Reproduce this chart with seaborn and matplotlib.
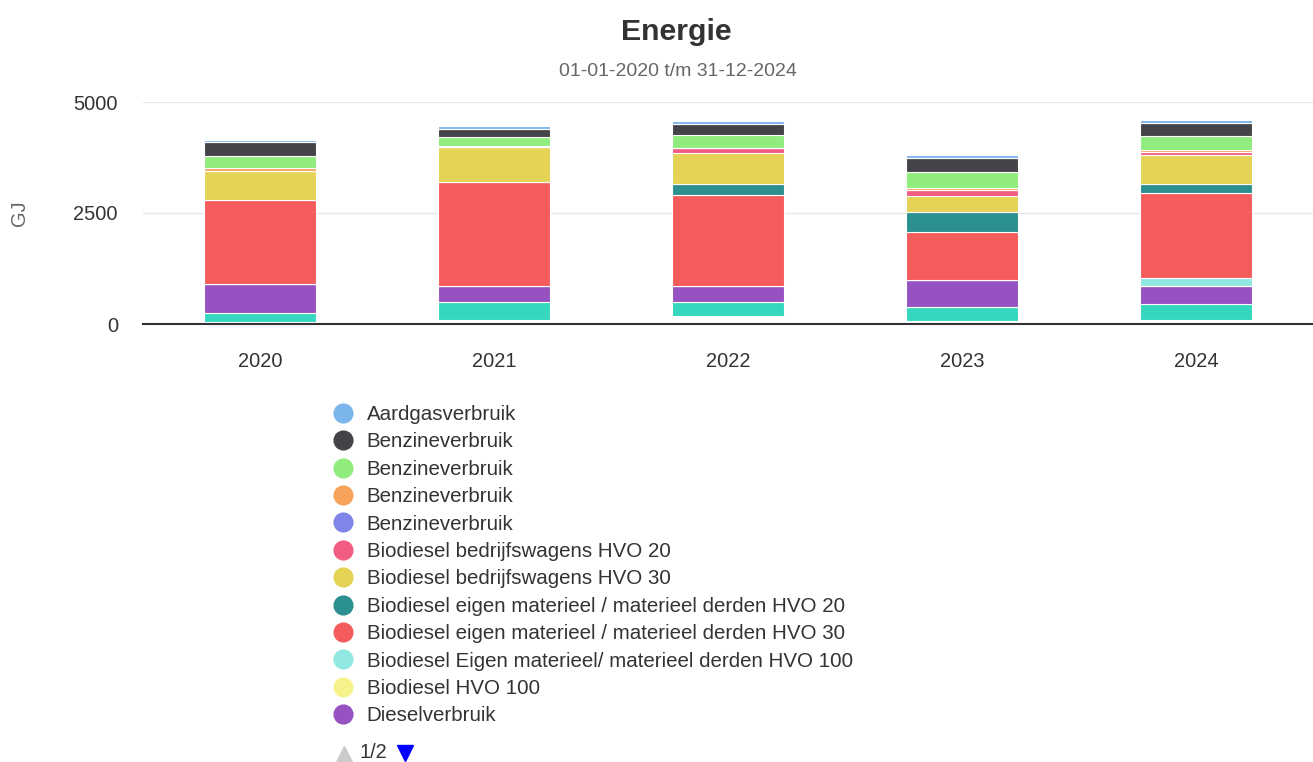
import numpy as np
import pandas as pd
import matplotlib
matplotlib.use('Agg')
import matplotlib.pyplot as plt
from matplotlib.lines import Line2D
import seaborn as sns

# categories
years = ['2020', '2021', '2022', '2023', '2024']

# series values in GJ, legend order = top of stack first
aardgas = [56, 70, 68, 68, 68]
benzine_zwart = [297, 185, 252, 315, 277]
benzine_groen = [281, 198, 288, 360, 331]
benzine_oranje = [60, 25, 0, 30, 30]
benzine_paars = [0, 0, 0, 0, 0]
bio_bw_hvo20 = [0, 0, 113, 151, 75]
bio_bw_hvo30 = [649, 777, 698, 356, 642]
bio_eigen_hvo20 = [0, 0, 241, 439, 218]
bio_eigen_hvo30 = [1914, 2342, 2056, 1085, 1914]
bio_eigen_hvo100 = [0, 0, 0, 0, 176]
bio_hvo100 = [0, 0, 0, 0, 0]
diesel = [653, 360, 360, 608, 405]
# series on legend page 2 (not listed on page 1)
page2_turquoise = [203, 410, 327, 315, 372]
page2_white = [34, 90, 169, 74, 79]

labels = ['Aardgasverbruik', 'Benzineverbruik', 'Benzineverbruik', 'Benzineverbruik',
          'Benzineverbruik', 'Biodiesel bedrijfswagens HVO 20', 'Biodiesel bedrijfswagens HVO 30',
          'Biodiesel eigen materieel / materieel derden HVO 20',
          'Biodiesel eigen materieel / materieel derden HVO 30',
          'Biodiesel Eigen materieel/ materieel derden HVO 100', 'Biodiesel HVO 100',
          'Dieselverbruik']
colors = ['#7cb5ec', '#434348', '#90ed7d', '#f7a35c', '#8085e9', '#f15c80', '#e4d354',
          '#2b908f', '#f45b5b', '#91e8e1', '#f7f38c', '#9552c0']
series = [aardgas, benzine_zwart, benzine_groen, benzine_oranje, benzine_paars,
          bio_bw_hvo20, bio_bw_hvo30, bio_eigen_hvo20, bio_eigen_hvo30,
          bio_eigen_hvo100, bio_hvo100, diesel]

sns.set_style('white')
plt.rcParams['font.family'] = ['Liberation Sans', 'DejaVu Sans']

# stack from the bottom: page 2 series first, then page 1 reversed
stack = [(page2_white, '#ffffff'), (page2_turquoise, '#36d7bf')]
stack += [(s, c) for s, c in zip(series[::-1], colors[::-1])]

fig = plt.figure(figsize=(13.13, 7.62), dpi=100)
ax = fig.add_axes([143 / 1313, 1 - 324 / 762, 1170 / 1313, 222 / 762])

bottom = np.zeros(len(years))
for vals, col in stack:
    df = pd.DataFrame({'jaar': years, 'GJ': vals})
    sns.barplot(data=df, x='jaar', y='GJ', color=col, width=0.48, bottom=bottom,
                edgecolor='white', linewidth=0.8, saturation=1, ax=ax, errorbar=None)
    bottom += np.array(vals)

ax.set_ylim(0, 5000)
ax.set_xlim(-0.5, 4.5)
ax.set_yticks([0, 2500, 5000])
ax.set_yticklabels(['0', '2500', '5000'])
ax.grid(axis='y', color='#e6e6e6', linewidth=1)
ax.set_axisbelow(True)
for side in ['top', 'right', 'left']:
    ax.spines[side].set_visible(False)
ax.spines['bottom'].set_color('#333333')
ax.spines['bottom'].set_linewidth(1.5)
ax.tick_params(axis='both', length=0, labelsize=14.4, colors='#333333')
ax.tick_params(axis='y', pad=18)
ax.tick_params(axis='x', pad=20)
ax.set_xlabel('')
ax.set_ylabel('')
fig.text(20 / 1313, 1 - 213 / 762, 'GJ', rotation=90, ha='center', va='center',
         fontsize=14.4, color='#666666')

fig.text(676 / 1313, 1 - 32 / 762, 'Energie', ha='center', va='center',
         fontsize=21.8, fontweight='bold', color='#333333')
fig.text(678 / 1313, 1 - 72 / 762, '01-01-2020 t/m 31-12-2024', ha='center', va='center',
         fontsize=14, color='#666666')

handles = [Line2D([0], [0], marker='o', linestyle='', markersize=13.5,
                  markerfacecolor=c, markeredgecolor=c) for c in colors]
fig.legend(handles, labels, loc='upper left', bbox_to_anchor=(333 / 1313, 1 - 405 / 762),
           frameon=False, fontsize=14.75, labelspacing=0.41, handletextpad=0.65,
           handlelength=1.0, borderpad=0, borderaxespad=0, labelcolor='#333333')

# legend pager: arrows as markers, page number as text
fig.add_artist(Line2D([344 / 1313], [1 - 754 / 762], marker='^', markersize=12, linestyle='',
                      color='#cccccc', transform=fig.transFigure))
fig.text(373 / 1313, 1 - 753 / 762, '1/2', ha='center', va='center', fontsize=14.4, color='#333333')
fig.add_artist(Line2D([405 / 1313], [1 - 753 / 762], marker='v', markersize=12, linestyle='',
                      color='#0000ff', transform=fig.transFigure))

fig.savefig('out.png', dpi=100)
